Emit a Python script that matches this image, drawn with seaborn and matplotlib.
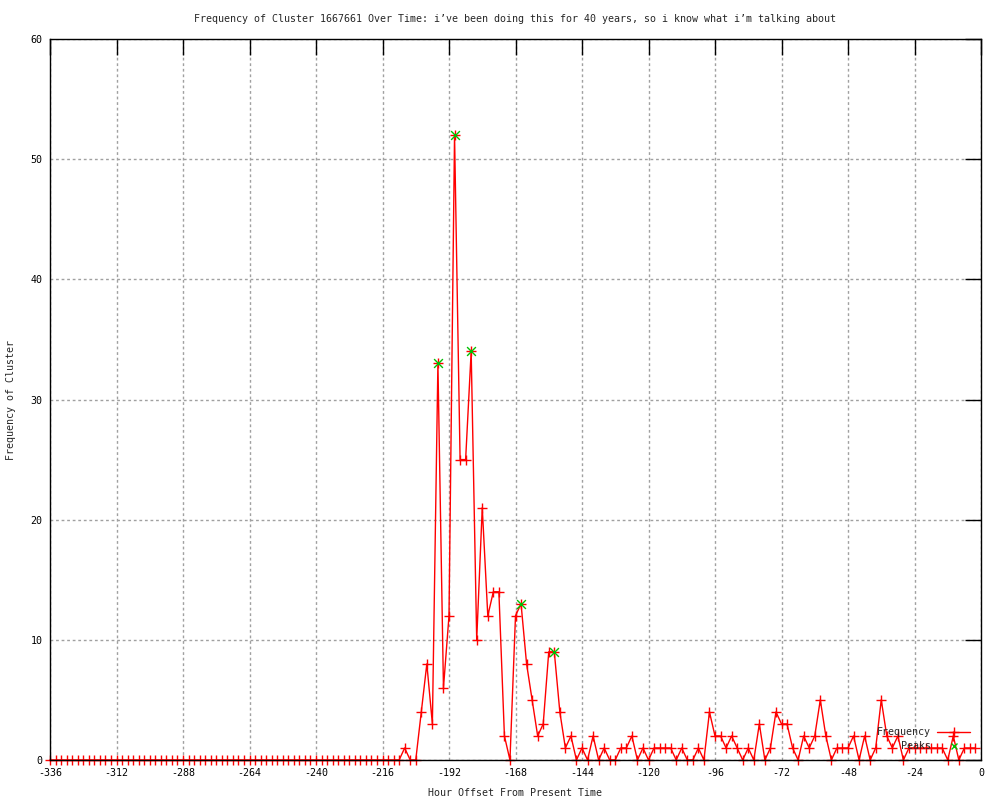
import matplotlib
matplotlib.use("Agg")
import matplotlib.pyplot as plt
import pandas as pd
import seaborn as sns

# ---- data ----
hours = list(range(-336, 0, 2))
frequency = [
    0, 0, 0, 0, 0, 0, 0, 0, 0, 0, 0, 0, 0, 0, 0, 0,
    0, 0, 0, 0, 0, 0, 0, 0, 0, 0, 0, 0, 0, 0, 0, 0,
    0, 0, 0, 0, 0, 0, 0, 0, 0, 0, 0, 0, 0, 0, 0, 0,
    0, 0, 0, 0, 0, 0, 0, 0, 0, 0, 0, 0, 0, 0, 0, 0,
    1, 0, 0, 4, 8, 3, 33, 6, 12, 52, 25, 25, 34, 10, 21, 12,
    14, 14, 2, 0, 12, 13, 8, 5, 2, 3, 9, 9, 4, 1, 2, 0,
    1, 0, 2, 0, 1, 0, 0, 1, 1, 2, 0, 1, 0, 1, 1, 1,
    1, 0, 1, 0, 0, 1, 0, 4, 2, 2, 1, 2, 1, 0, 1, 0,
    3, 0, 1, 4, 3, 3, 1, 0, 2, 1, 2, 5, 2, 0, 1, 1,
    1, 2, 0, 2, 0, 1, 5, 2, 1, 2, 0, 1, 1, 1, 1, 1,
    1, 1, 0, 2, 0, 1, 1, 1,
]
peak_hours = [-196, -190, -184, -166, -154]
peak_values = [33, 52, 34, 13, 9]

x_ticks = list(range(-336, 1, 24))
y_ticks = list(range(0, 61, 10))

title = "Frequency of Cluster 1667661 Over Time: i\u2019ve been doing this for 40 years, so i know what i\u2019m talking about"
x_label = "Hour Offset From Present Time"
y_label = "Frequency of Cluster"
legend_labels = ["Frequency", "Peaks"]

# ---- style ----
sns.set_style("white")
plt.rcParams['font.family'] = ['DejaVu Sans Mono']
FS = 7.2
RED = "#ff0000"
GREEN = "#00c000"

fig = plt.figure(figsize=(10, 8), dpi=100)
ax = fig.add_axes([0.05, 0.05, 0.931, 0.90125])

df = pd.DataFrame({"hour": hours, "freq": frequency})
sns.lineplot(data=df, x="hour", y="freq", ax=ax, color=RED, linewidth=1,
             marker="+", markersize=7, markeredgewidth=1, markeredgecolor=RED,
             estimator=None, zorder=3, clip_on=False)

pk = pd.DataFrame({"hour": peak_hours, "freq": peak_values})
sns.scatterplot(data=pk, x="hour", y="freq", ax=ax, marker="x", color=GREEN,
                s=40, linewidth=1, zorder=4, clip_on=False)

ax.set_xlim(-336, 0)
ax.set_ylim(0, 60)
ax.set_xticks(x_ticks)
ax.set_yticks(y_ticks)
ax.set_xticklabels([str(t) for t in x_ticks])
ax.set_yticklabels([str(t) for t in y_ticks])

ax.set_axisbelow(True)
ax.grid(True, color="#a0a0a0", linestyle=(0, (2, 2)), linewidth=1)
ax.tick_params(direction="in", length=11.5, width=1, top=True, right=True,
               labelsize=FS, pad=5.5, colors="black")
for s in ax.spines.values():
    s.set_color("black")
    s.set_linewidth(1)
    s.set_zorder(5)

ax.set_xlabel(x_label, fontsize=FS, labelpad=7.5)
ax.set_ylabel(y_label, fontsize=FS, labelpad=10)
ax.set_title(title, fontsize=FS, pad=12.5)

# gnuplot-style key (bottom right, text right-aligned before the sample)
ax.text(0.946, 0.0388, legend_labels[0], transform=ax.transAxes, ha="right",
        va="center", fontsize=FS, zorder=6)
ax.plot([0.953, 0.988], [0.0388, 0.0388], transform=ax.transAxes, color=RED,
        lw=1, zorder=6)
ax.plot([0.9705], [0.0388], transform=ax.transAxes, color=RED, marker="+",
        markersize=7, markeredgewidth=1, zorder=6)
ax.text(0.946, 0.0194, legend_labels[1], transform=ax.transAxes, ha="right",
        va="center", fontsize=FS, zorder=6)
ax.plot([0.9705], [0.0194], transform=ax.transAxes, color=GREEN, marker="x",
        markersize=5, markeredgewidth=1, linestyle="none", zorder=6)

fig.savefig("out.png", dpi=100)
